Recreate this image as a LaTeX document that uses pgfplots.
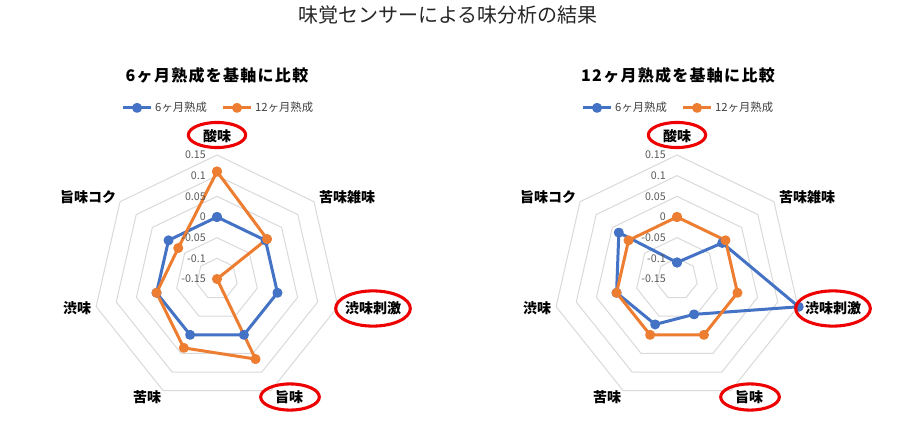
\documentclass[border=0pt]{standalone}
\usepackage{fontspec}
\setmainfont{Noto Sans CJK JP}
\usepackage{pgfplots}
\pgfplotsset{compat=1.18}
\usepackage{pgfplotstable}

\definecolor{cblue}{HTML}{4472C4}
\definecolor{corange}{HTML}{ED7D31}
\definecolor{gridc}{HTML}{D9D9D9}
\definecolor{tickc}{HTML}{595959}
\definecolor{legc}{HTML}{404040}
\definecolor{ringred}{HTML}{EE0000}

% angle (deg, clockwise from top), value of 6-month, value of 12-month
\pgfplotstableread{
a v6 v12
90 0 0.11
38.571 0 0.005
-12.857 0 -0.15
-64.286 0 0.065
-115.714 0 0.035
-167.143 0 0
141.429 0 -0.03
90 0 0.11
}\dataA

\pgfplotstableread{
a v6 v12
90 -0.11 0
38.571 -0.01 0
-12.857 0.152 0
-64.286 -0.055 0
-115.714 -0.028 0
-167.143 0 0
141.429 0.03 0
90 -0.11 0
}\dataB

\pgfplotsset{
  radar/.style={
    hide axis, clip=false, anchor=origin,
    x=310pt, y=310pt,
    xmin=-0.35, xmax=0.35, ymin=-0.3, ymax=0.3,
    legend columns=2,
    legend style={draw=none, fill=none,
      font=\fontsize{8.5}{10}\selectfont, text=legc,
      at={(axis cs:0.004,0.414)}, anchor=center,
      /tikz/every even column/.append style={column sep=9pt},
      /tikz/every odd column/.append style={column sep=0pt}},
    legend image code/.code={\draw[mark repeat=2,mark phase=2,##1]
      plot coordinates {(0pt,0pt)(10.5pt,0pt)(21pt,0pt)};},
  },
  ser/.style={line width=2.25pt, mark=*, mark size=2.6pt, line join=round,
    mark options={solid}},
}

\newcommand\rings[1]{%
  \pgfplotsinvokeforeach{-0.1,-0.05,0,0.05,0.1,0.15}{%
    \addplot[gridc, line width=0.75pt, forget plot]
      table[x expr={(##1+0.15)*cos(\thisrow{a})},
            y expr={(##1+0.15)*sin(\thisrow{a})}]{#1};
  }%
}

\tikzset{
  tickl/.style={anchor=east, text=tickc, font=\fontsize{8}{9}\selectfont, inner sep=0pt},
  catl/.style={font=\fontsize{10.5}{12}\bfseries\selectfont, inner sep=0pt},
  redring/.style={draw=ringred, line width=2.3pt},
}

\newcommand\decor[2]{%
  % tick labels
  \foreach \v/\r in {0.15/124,0.1/103.3,0.05/82.7,0/62,-0.05/41.3,-0.1/20.7,-0.15/0}{%
    \node[tickl] at (#1-11,#2+\r) {\v};}
  % category labels
  \node[catl] at (#1,#2+143) {酸味};
  \node[catl] at (#1+130,#2+82) {苦味雑味};
  \node[catl] at (#1+156,#2-29) {渋味刺激};
  \node[catl] at (#1+72,#2-118) {旨味};
  \node[catl] at (#1-70,#2-118) {苦味};
  \node[catl] at (#1-140,#2-29) {渋味};
  \node[catl] at (#1-129,#2+82) {旨味コク};
  % red highlight ellipses
  \draw[redring] (#1,#2+144) ellipse (21.5pt and 9.4pt);
  \draw[redring] (#1+156,#2-29.5) ellipse (28pt and 13.2pt);
  \draw[redring] (#1+73,#2-118) ellipse (22pt and 9.8pt);
}

\begin{document}
\begin{tikzpicture}[x=0.75pt, y=0.75pt]
\useasboundingbox (0,0) rectangle (912,446);

\node[font=\fontsize{15}{18}\selectfont, text=black!85] at (448,431) {味覚センサーによる味分析の結果};

\node[font=\fontsize{12}{14}\bfseries\selectfont\addfontfeature{LetterSpace=8}] at (217,371) {6ヶ月熟成を基軸に比較};
\node[font=\fontsize{12}{14}\bfseries\selectfont\addfontfeature{LetterSpace=8}] at (678,371) {12ヶ月熟成を基軸に比較};

% left chart
\begin{axis}[radar, at={(162.75pt,125.25pt)}]
\rings{\dataA}
\addplot[cblue, ser] table[x expr={(\thisrow{v6}+0.15)*cos(\thisrow{a})},
  y expr={(\thisrow{v6}+0.15)*sin(\thisrow{a})}]{\dataA};
\addplot[corange, ser] table[x expr={(\thisrow{v12}+0.15)*cos(\thisrow{a})},
  y expr={(\thisrow{v12}+0.15)*sin(\thisrow{a})}]{\dataA};
\legend{6ヶ月熟成,12ヶ月熟成}
\end{axis}

% right chart
\begin{axis}[radar, at={(507.75pt,125.25pt)}]
\rings{\dataB}
\addplot[cblue, ser] table[x expr={(\thisrow{v6}+0.15)*cos(\thisrow{a})},
  y expr={(\thisrow{v6}+0.15)*sin(\thisrow{a})}]{\dataB};
\addplot[corange, ser] table[x expr={(\thisrow{v12}+0.15)*cos(\thisrow{a})},
  y expr={(\thisrow{v12}+0.15)*sin(\thisrow{a})}]{\dataB};
\legend{6ヶ月熟成,12ヶ月熟成}
\end{axis}

\decor{217}{167}
\decor{677}{167}
\end{tikzpicture}
\end{document}
